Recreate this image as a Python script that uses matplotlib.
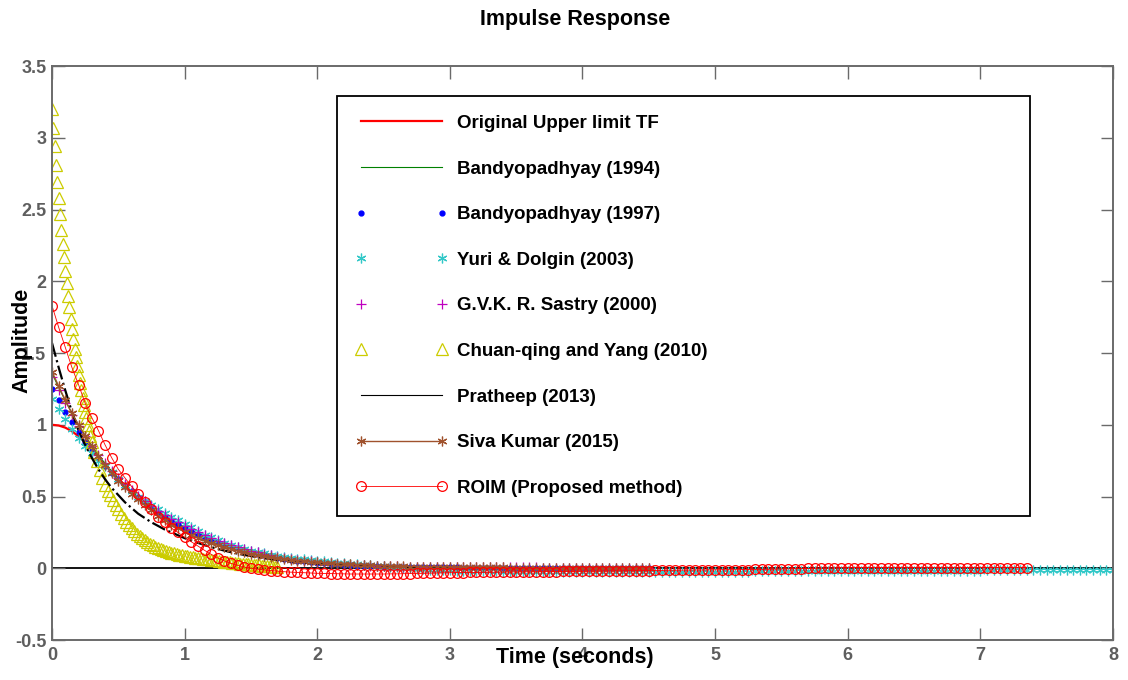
import numpy as np
import matplotlib
matplotlib.use("Agg")
import matplotlib.pyplot as plt

plt.rcParams['font.family'] = ['Liberation Sans', 'DejaVu Sans']
plt.rcParams['font.weight'] = 'bold'

# sample step of the impulse responses (seconds)
dt = 0.05

labels = ['Original Upper limit TF', 'Bandyopadhyay (1994)', 'Bandyopadhyay (1997)',
          'Yuri & Dolgin (2003)', 'G.V.K. R. Sastry (2000)', 'Chuan-qing and Yang (2010)',
          'Pratheep (2013)', 'Siva Kumar (2015)', 'ROIM (Proposed method)']

x_ticks = [0, 1, 2, 3, 4, 5, 6, 7, 8]
y_ticks = [-0.5, 0, 0.5, 1, 1.5, 2, 2.5, 3, 3.5]
y_tick_labels = ['-0.5', '0', '0.5', '1', '1.5', '2', '2.5', '3', '3.5']

original = [1.0, 0.995, 0.98, 0.955, 0.92, 0.875, 0.825, 0.775, 0.72, 0.67,
            0.62, 0.575, 0.53, 0.49, 0.45, 0.415, 0.38, 0.35, 0.32, 0.295,
            0.27, 0.248, 0.227, 0.208, 0.19, 0.174, 0.159, 0.145, 0.132, 0.12,
            0.11, 0.1, 0.091, 0.083, 0.075, 0.068, 0.062, 0.056, 0.051, 0.046,
            0.042, 0.038, 0.034, 0.031, 0.028, 0.025, 0.023, 0.021, 0.019, 0.017, 0.015]

bandyo_1994 = [1.36, 1.26, 1.17, 1.08, 1.0, 0.925, 0.855, 0.79, 0.73, 0.675,
               0.625, 0.578, 0.535, 0.495, 0.458, 0.424, 0.392, 0.362, 0.335, 0.31,
               0.286, 0.264, 0.244, 0.225, 0.208, 0.192, 0.177, 0.163, 0.15, 0.138,
               0.127, 0.117, 0.107, 0.098, 0.09, 0.083, 0.076, 0.07, 0.064, 0.059,
               0.054, 0.049, 0.045, 0.041, 0.038, 0.034, 0.031, 0.029, 0.026, 0.024, 0.022]

bandyo_1997 = [1.25, 1.17, 1.09, 1.02, 0.95, 0.88, 0.82, 0.765, 0.715, 0.665,
               0.62, 0.575, 0.535, 0.495, 0.46, 0.425, 0.39, 0.36, 0.335, 0.31,
               0.285, 0.262, 0.24, 0.22, 0.2, 0.183, 0.167, 0.152, 0.138, 0.125,
               0.113, 0.102, 0.092, 0.083, 0.075, 0.067, 0.06, 0.054, 0.048, 0.043,
               0.038, 0.034, 0.03, 0.027, 0.024, 0.021, 0.019, 0.017, 0.015, 0.013, 0.012,
               0.011, 0.01, 0.009, 0.009, 0.008, 0.008, 0.007, 0.007, 0.006, 0.006,
               0.006, 0.005, 0.005, 0.005, 0.004, 0.004, 0.004, 0.004, 0.003, 0.003,
               0.003, 0.003, 0.003, 0.002, 0.002, 0.002, 0.002, 0.002, 0.002, 0.001,
               0.001, 0.001, 0.001, 0.001, 0.001, 0.001, 0.001, 0.0, 0.0, 0.0]

yuri_dolgin = [1.18, 1.11, 1.04, 0.97, 0.91, 0.85, 0.8, 0.75, 0.71, 0.67,
               0.62, 0.58, 0.54, 0.5, 0.47, 0.44, 0.41, 0.385, 0.36, 0.335,
               0.31, 0.285, 0.26, 0.235, 0.215, 0.195, 0.177, 0.16, 0.145, 0.133,
               0.122, 0.112, 0.103, 0.095, 0.087, 0.08, 0.074, 0.068, 0.063, 0.058,
               0.053, 0.049, 0.044, 0.04, 0.036, 0.032, 0.028, 0.024, 0.02, 0.016,
               0.013, 0.009, 0.006, 0.003, 0.0, -0.003, -0.006, -0.009, -0.011, -0.013, -0.015,
               -0.017, -0.018, -0.019, -0.02, -0.021, -0.022, -0.022, -0.023, -0.023, -0.024,
               -0.024, -0.024, -0.025, -0.025, -0.025, -0.025, -0.025, -0.025, -0.025, -0.025,
               -0.025, -0.025, -0.025, -0.025, -0.025, -0.025, -0.025, -0.025, -0.025, -0.025,
               -0.024, -0.024, -0.024, -0.024, -0.024, -0.024, -0.024, -0.024, -0.024, -0.024,
               -0.023, -0.023, -0.023, -0.023, -0.023, -0.022, -0.022, -0.022, -0.022, -0.022,
               -0.021, -0.021, -0.021, -0.021, -0.021, -0.02, -0.02, -0.02, -0.02, -0.02,
               -0.019, -0.019, -0.019, -0.019, -0.019, -0.018, -0.018, -0.018, -0.018, -0.018,
               -0.017, -0.017, -0.017, -0.017, -0.017, -0.016, -0.016, -0.016, -0.016, -0.016,
               -0.015, -0.015, -0.015, -0.015, -0.015, -0.014, -0.014, -0.014, -0.014, -0.014,
               -0.013, -0.013, -0.013, -0.013, -0.013, -0.012, -0.012, -0.012, -0.012, -0.012]

sastry = [1.33, 1.24, 1.15, 1.07, 0.99, 0.92, 0.85, 0.79, 0.735, 0.68,
          0.63, 0.585, 0.545, 0.505, 0.47, 0.435, 0.4, 0.37, 0.345, 0.32,
          0.295, 0.272, 0.25, 0.23, 0.21, 0.192, 0.175, 0.16, 0.146, 0.133,
          0.121, 0.11, 0.1, 0.09, 0.082, 0.074, 0.067, 0.06, 0.054, 0.049,
          0.044, 0.04, 0.036, 0.032, 0.029, 0.026, 0.023, 0.021, 0.019, 0.017, 0.015,
          0.014, 0.013, 0.012, 0.012, 0.011, 0.011, 0.01, 0.01, 0.009, 0.009,
          0.009, 0.008, 0.008, 0.008, 0.007, 0.007, 0.007, 0.007, 0.006, 0.006,
          0.006, 0.006, 0.006, 0.005, 0.005, 0.005, 0.005, 0.005, 0.005, 0.005,
          0.004, 0.004, 0.004, 0.004, 0.004, 0.004, 0.004, 0.004, 0.004, 0.004]

# Chuan-qing and Yang: 0.01 s steps up to 0.29 s, then 0.02 s steps
chuan_head = [3.2, 3.07, 2.94, 2.81, 2.69, 2.58, 2.47, 2.36, 2.26, 2.17,
              2.07, 1.99, 1.9, 1.82, 1.74, 1.67, 1.6, 1.53, 1.47, 1.41,
              1.35, 1.29, 1.24, 1.19, 1.14, 1.09, 1.05, 1.0, 0.96, 0.92]
chuan_tail = [0.88, 0.81, 0.745, 0.685, 0.63, 0.58, 0.54, 0.51, 0.475, 0.44,
              0.41, 0.38, 0.35, 0.325, 0.3, 0.28, 0.26, 0.24, 0.225, 0.21,
              0.195, 0.182, 0.17, 0.16, 0.15, 0.142, 0.134, 0.127, 0.12, 0.114,
              0.108, 0.103, 0.098, 0.094, 0.09, 0.086, 0.083, 0.08, 0.077, 0.074,
              0.071, 0.069, 0.067, 0.065, 0.062, 0.06, 0.057, 0.055, 0.052, 0.05,
              0.047, 0.045, 0.042, 0.04, 0.037, 0.035, 0.033, 0.031, 0.029, 0.027,
              0.025, 0.023, 0.021, 0.02, 0.018, 0.017, 0.015, 0.014, 0.013, 0.012, 0.011]

pratheep = [1.57, 1.4, 1.24, 1.09, 0.96, 0.86, 0.77, 0.69, 0.62, 0.56,
            0.51, 0.46, 0.42, 0.38, 0.35, 0.32, 0.295, 0.27, 0.25, 0.23,
            0.21, 0.193, 0.177, 0.162, 0.148, 0.135, 0.123, 0.112, 0.102, 0.093,
            0.085, 0.077, 0.07, 0.064, 0.058, 0.053, 0.048, 0.044, 0.04, 0.036,
            0.033, 0.03, 0.027, 0.025, 0.022, 0.02, 0.018, 0.017, 0.015, 0.014, 0.012,
            0.011, 0.01, 0.009, 0.008, 0.007, 0.006, 0.005, 0.004, 0.003, 0.003]

siva_kumar = [1.37, 1.27, 1.17, 1.08, 1.0, 0.92, 0.85, 0.78, 0.72, 0.665,
              0.61, 0.565, 0.52, 0.48, 0.44, 0.405, 0.365, 0.335, 0.305, 0.28,
              0.255, 0.232, 0.212, 0.193, 0.176, 0.16, 0.146, 0.133, 0.121, 0.11,
              0.1, 0.091, 0.083, 0.076, 0.069, 0.063, 0.058, 0.053, 0.049, 0.045,
              0.041, 0.038, 0.035, 0.032, 0.029, 0.027, 0.025, 0.023, 0.021, 0.019, 0.017,
              0.015, 0.014, 0.013, 0.012, 0.011, 0.011, 0.01, 0.01, 0.009, 0.009,
              0.008, 0.008, 0.007, 0.007, 0.007, 0.006, 0.006, 0.006, 0.005, 0.005,
              0.005, 0.005, 0.004, 0.004, 0.004, 0.004, 0.004, 0.003, 0.003, 0.003,
              0.003, 0.003, 0.003, 0.002, 0.002, 0.002, 0.002, 0.002, 0.002, 0.002]

roim = [1.83, 1.68, 1.54, 1.4, 1.28, 1.15, 1.05, 0.96, 0.86, 0.77,
        0.69, 0.63, 0.57, 0.52, 0.46, 0.41, 0.36, 0.32, 0.28, 0.25,
        0.215, 0.185, 0.155, 0.125, 0.097, 0.072, 0.051, 0.034, 0.02, 0.009,
        0.0, -0.006, -0.011, -0.016, -0.02, -0.024, -0.027, -0.029, -0.031,
        -0.033, -0.035, -0.036, -0.037, -0.038, -0.039,
        -0.04, -0.04, -0.04, -0.04, -0.04, -0.04,
        -0.039, -0.039, -0.038, -0.037, -0.036, -0.035, -0.034, -0.033, -0.032, -0.031,
        -0.03, -0.03, -0.029, -0.029, -0.028, -0.028, -0.027, -0.027, -0.026, -0.026,
        -0.025, -0.025, -0.024, -0.024, -0.023, -0.023, -0.022, -0.022, -0.021, -0.021,
        -0.02, -0.02, -0.019, -0.019, -0.018, -0.018, -0.017, -0.017, -0.016, -0.016, -0.015, -0.015,
        -0.014, -0.014, -0.013, -0.013, -0.012, -0.012, -0.011, -0.011, -0.01, -0.01, -0.01,
        -0.009, -0.009, -0.008, -0.008, -0.007, -0.006, -0.005, -0.004, -0.003, -0.002, -0.001,
        0.0, 0.001, 0.002, 0.003, 0.004, 0.004,
        0.005, 0.005, 0.005, 0.005, 0.005, 0.005, 0.005, 0.005, 0.005, 0.005,
        0.005, 0.005, 0.005, 0.005, 0.005, 0.005, 0.005, 0.005, 0.005, 0.005,
        0.005, 0.005, 0.005, 0.005, 0.005, 0.005, 0.005]


def time_of(vals, step=dt, start=0.0):
    return start + step * np.arange(len(vals))


t_chuan = np.concatenate([time_of(chuan_head, 0.01), time_of(chuan_tail, 0.02, 0.30)])
chuan = chuan_head + chuan_tail

fig = plt.figure(figsize=(11.28, 6.8), dpi=100)
ax = fig.add_axes([0.0461, 0.0588, 0.9406, 0.8441])

ax.axhline(0, color='k', lw=1.3, zorder=1)

ax.plot(time_of(original), original, color='#ff0000', lw=1.6, label=labels[0])
ax.plot(time_of(bandyo_1994), bandyo_1994, color='#008000', lw=0.8, label=labels[1])
ax.plot(time_of(bandyo_1997), bandyo_1997, ls='none', marker='.', ms=7,
        color='#0000ff', label=labels[2])
ax.plot(time_of(yuri_dolgin), yuri_dolgin, ls='none', marker=(6, 2, 0), ms=7, mew=0.9,
        color='#33c8c8', label=labels[3])
ax.plot(time_of(sastry), sastry, ls='none', marker='+', ms=7, mew=0.9,
        color='#c000c0', label=labels[4])
ax.plot(t_chuan, chuan, ls='none', marker='^', ms=8, mew=0.9, mfc='none',
        color='#cccc00', label=labels[5])
ax.plot(time_of(pratheep), pratheep, color='k', ls='-.', lw=1.6, label=labels[6])
ax.plot(time_of(siva_kumar), siva_kumar, color='#a0522d', lw=1.0, marker=(6, 2, 0),
        ms=7, mew=0.9, label=labels[7])
ax.plot(time_of(roim), roim, color='#ff0000', lw=0.6, marker='o', ms=7, mew=0.9,
        mfc='none', label=labels[8])

ax.set_xlim(0, 8)
ax.set_ylim(-0.5, 3.5)
ax.set_xticks(x_ticks)
ax.set_xticklabels([str(v) for v in x_ticks])
ax.set_yticks(y_ticks)
ax.set_yticklabels(y_tick_labels)

gray = '#6a6a6a'
ax.tick_params(direction='in', length=9, width=1.0, color=gray, labelcolor='#5e5e5e',
               labelsize=13, top=True, right=True)
ax.tick_params(axis='x', pad=5)
ax.tick_params(axis='y', pad=4)
for sp in ax.spines.values():
    sp.set_color(gray)
    sp.set_linewidth(1.4)

ax.set_xlabel('Time (seconds)', fontsize=15.5, fontweight='bold')
ax.xaxis.set_label_coords(0.493, -0.012)
ax.set_ylabel('Amplitude', fontsize=15.5, fontweight='bold')
ax.yaxis.set_label_coords(-0.018, 0.5226)

fig.text(0.5098, 0.971, 'Impulse Response', fontsize=15.5, fontweight='bold',
         ha='center', va='center')

leg = ax.legend(loc='upper left', bbox_to_anchor=(0.2686, 0.2317, 0.6532, 0.716),
                mode='expand', borderaxespad=0, fontsize=13.5, numpoints=2,
                handlelength=4.9, handletextpad=0.5, labelspacing=1.52, borderpad=1.0,
                fancybox=False, framealpha=1, edgecolor='k')
leg.get_frame().set_linewidth(1.3)
leg.get_lines()[6].set_linestyle('-')
leg.get_lines()[6].set_linewidth(0.8)

fig.savefig('out.png', dpi=100)
